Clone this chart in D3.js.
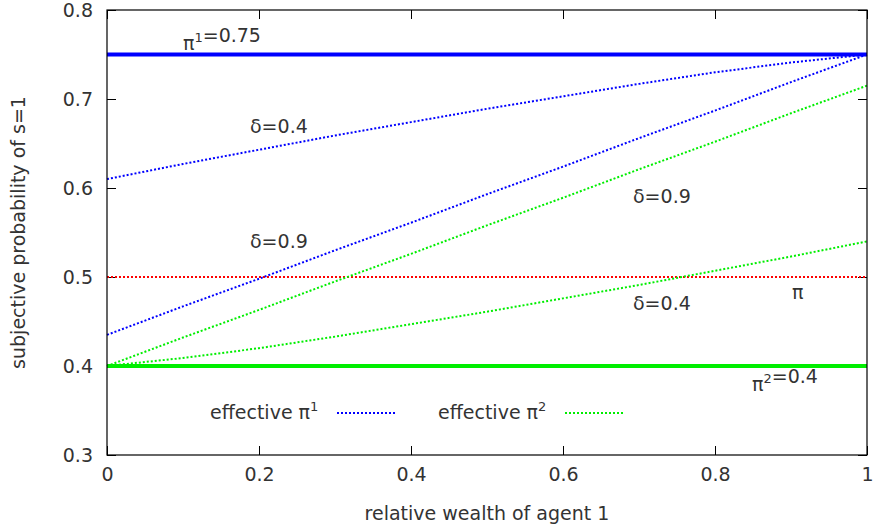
<!DOCTYPE html>
<html><head><meta charset="utf-8">
<script src="https://cdn.jsdelivr.net/npm/d3@7"></script>
<style>
body{margin:0;background:#fff;}
svg{display:block;font-family:"DejaVu Sans",sans-serif;}
</style></head>
<body>
<svg id="c" width="880" height="530"></svg>
<script>
// ---- data ----
const wealth = [0,0.1,0.2,0.3,0.4,0.5,0.6,0.7,0.8,0.9,1];
const eff1_d04 = [0.610,0.627,0.643,0.659,0.674,0.689,0.703,0.717,0.730,0.741,0.750];
const eff1_d09 = [0.435,0.467,0.498,0.530,0.561,0.593,0.624,0.656,0.687,0.719,0.750];
const eff2_d09 = [0.400,0.432,0.463,0.495,0.526,0.558,0.589,0.621,0.652,0.684,0.715];
const eff2_d04 = [0.400,0.409,0.420,0.433,0.447,0.461,0.476,0.491,0.507,0.523,0.540];
const pi1 = 0.75, pi2 = 0.4, piMkt = 0.5;
const xTicks = [0,0.2,0.4,0.6,0.8,1];
const xTickLabels = ["0","0.2","0.4","0.6","0.8","1"];
const yTicks = [0.3,0.4,0.5,0.6,0.7,0.8];
const yTickLabels = ["0.3","0.4","0.5","0.6","0.7","0.8"];

const svg = d3.select("#c");
const L=107,R=867,T=10,B=455;
const x = d3.scaleLinear().domain([0,1]).range([L,R]);
const y = d3.scaleLinear().domain([0.3,0.8]).range([B,T]);
const FS = 19, SFS = 13;
const TXT = "#333";
const BLUE="#0000ff", GREEN="#00ee00", RED="#ff0000";

// axes with inward ticks (gnuplot style, mirrored)
const ax = (g)=>{g.select(".domain").remove(); g.selectAll("line").attr("stroke","#000"); g.selectAll("text").attr("font-size",FS).attr("fill",TXT).attr("font-family","DejaVu Sans, sans-serif");};
svg.append("g").attr("transform",`translate(0,${B})`)
  .call(d3.axisBottom(x).tickValues(xTicks).tickFormat((d,i)=>xTickLabels[i]).tickSizeInner(-9).tickSizeOuter(0).tickPadding(13)).call(ax);
svg.append("g").attr("transform",`translate(0,${T})`)
  .call(d3.axisTop(x).tickValues(xTicks).tickFormat("").tickSizeInner(-9).tickSizeOuter(0)).call(ax);
svg.append("g").attr("transform",`translate(${L},0)`)
  .call(d3.axisLeft(y).tickValues(yTicks).tickFormat((d,i)=>yTickLabels[i]).tickSizeInner(-9).tickSizeOuter(0).tickPadding(14)).call(ax);
svg.append("g").attr("transform",`translate(${R},0)`)
  .call(d3.axisRight(y).tickValues(yTicks).tickFormat("").tickSizeInner(-9).tickSizeOuter(0)).call(ax);

// lines
const line = d3.line().x((d,i)=>x(wealth[i])).y(d=>y(d));
const dotted = "2,2";
svg.append("line").attr("x1",x(0)).attr("x2",x(1)).attr("y1",y(piMkt)).attr("y2",y(piMkt))
  .attr("stroke",RED).attr("stroke-width",2).attr("stroke-dasharray",dotted);
[[eff2_d04,GREEN],[eff2_d09,GREEN],[eff1_d09,BLUE],[eff1_d04,BLUE]].forEach(([d,c])=>{
  svg.append("path").datum(d).attr("d",line).attr("fill","none").attr("stroke",c).attr("stroke-width",2).attr("stroke-dasharray",dotted);
});
svg.append("line").attr("x1",x(0)).attr("x2",x(1)).attr("y1",y(pi1)).attr("y2",y(pi1)).attr("stroke",BLUE).attr("stroke-width",4);
svg.append("line").attr("x1",x(0)).attr("x2",x(1)).attr("y1",y(pi2)).attr("y2",y(pi2)).attr("stroke",GREEN).attr("stroke-width",4);

// frame
svg.append("rect").attr("x",L).attr("y",T).attr("width",R-L).attr("height",B-T).attr("fill","none").attr("stroke","#000").attr("stroke-width",1.2);

// annotations
function label(px,py,parts,anchor){
  const t = svg.append("text").attr("x",px).attr("y",py).attr("font-size",FS).attr("fill",TXT).attr("text-anchor",anchor||"start");
  parts.forEach(p=>{
    if(p.sup){ t.append("tspan").attr("dy",-8).attr("font-size",SFS).text(p.sup); t.append("tspan").attr("dy",8).text(""); }
    else t.append("tspan").text(p.t);
  });
  return t;
}
label(183,50,[{t:"π"},{sup:"1"},{t:"=0.75"}]);
label(250,133,[{t:"δ=0.4"}]);
label(250,248,[{t:"δ=0.9"}]);
label(633,203,[{t:"δ=0.9"}]);
label(633,310,[{t:"δ=0.4"}]);
label(792,299,[{t:"π"}]);
label(752,391,[{t:"π"},{sup:"2"},{t:"=0.4"}]);

// legend
label(210,419,[{t:"effective π"},{sup:"1"}]);
svg.append("line").attr("x1",337).attr("x2",397).attr("y1",413).attr("y2",413).attr("stroke",BLUE).attr("stroke-width",2).attr("stroke-dasharray",dotted);
label(438,419,[{t:"effective π"},{sup:"2"}]);
svg.append("line").attr("x1",565).attr("x2",625).attr("y1",413).attr("y2",413).attr("stroke",GREEN).attr("stroke-width",2).attr("stroke-dasharray",dotted);

// axis titles
svg.append("text").attr("x",(L+R)/2).attr("y",520).attr("text-anchor","middle").attr("font-size",FS).attr("fill",TXT).text("relative wealth of agent 1");
svg.append("text").attr("transform",`translate(25,${(T+B)/2}) rotate(-90)`).attr("text-anchor","middle").attr("font-size",FS).attr("fill",TXT).text("subjective probability of s=1");
</script>
</body></html>
